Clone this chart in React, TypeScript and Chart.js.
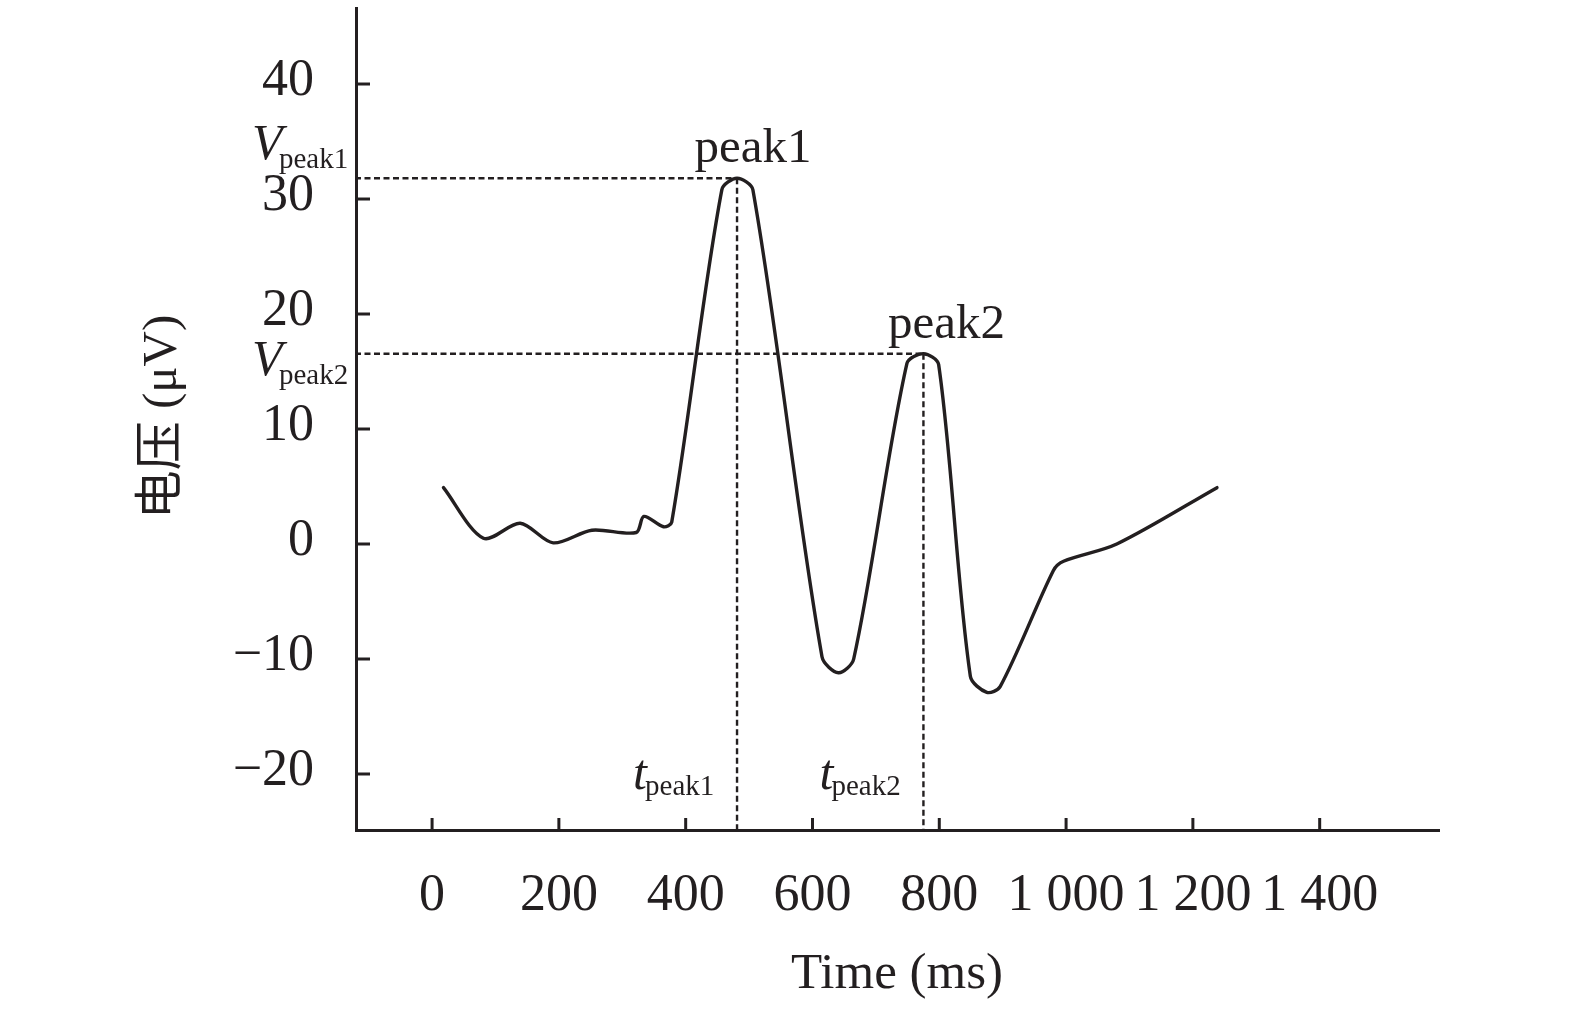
import { useEffect, useRef } from "react"
import { Chart, registerables } from "chart.js"

Chart.register(...registerables)

// values
const timeMs = [18, 81, 139, 191, 252, 322, 334, 365, 378, 457, 481, 506, 615, 641, 665, 749, 775, 799, 849, 875, 896, 980, 996, 1080, 1238]
const voltage = [4.9, 0.5, 1.8, 0.1, 1.2, 1.0, 2.4, 1.5, 1.9, 30.8, 31.8, 30.8, -9.8, -11.2, -10.0, 15.7, 16.55, 15.6, -11.5, -12.9, -12.4, -2.3, -1.5, 0.0, 4.9]

const xTicks = [0, 200, 400, 600, 800, 1000, 1200, 1400]
const yTicks = [-20, -10, 0, 10, 20, 30, 40]

const peakNames = ["peak1", "peak2"]
const peakTimes = [481, 775]
const peakVoltages = [31.8, 16.55]

const INK = "#231f20"
const SERIF = "'Liberation Serif', 'Times New Roman', serif"
const CJK = "'Liberation Serif', 'Noto Sans CJK SC', serif"

function fmtTick(v: number) {
  const s = Math.abs(v).toString().replace(/\B(?=(\d{3})+(?!\d))/g, " ")
  return v < 0 ? "\u2212" + s : s
}

function text(ctx: CanvasRenderingContext2D, s: string, x: number, y: number, font: string, align: CanvasTextAlign = "left") {
  ctx.font = font
  ctx.textAlign = align
  ctx.textBaseline = "alphabetic"
  ctx.fillText(s, x, y)
}

const annotations = {
  id: "annotations",
  afterDatasetsDraw(chart: any) {
    const { ctx, chartArea, scales } = chart
    const axisX = chartArea.left - 1
    const axisY = chartArea.bottom + 2
    ctx.save()
    ctx.strokeStyle = INK
    ctx.lineWidth = 2.4
    ctx.setLineDash([6, 3.5])
    peakTimes.forEach((t, i) => {
      const px = scales.x.getPixelForValue(t)
      const py = scales.y.getPixelForValue(peakVoltages[i])
      ctx.beginPath()
      ctx.moveTo(axisX, py)
      ctx.lineTo(px, py)
      ctx.stroke()
      ctx.beginPath()
      ctx.moveTo(px, py)
      ctx.lineTo(px, axisY)
      ctx.stroke()
    })
    ctx.restore()
  },
  afterDraw(chart: any) {
    const { ctx, chartArea, scales } = chart
    const axisX = chartArea.left - 1
    const axisY = chartArea.bottom + 2
    ctx.save()
    ctx.strokeStyle = INK
    ctx.fillStyle = INK
    ctx.lineWidth = 3

    // inward tick marks
    yTicks.forEach((v) => {
      const py = scales.y.getPixelForValue(v)
      ctx.beginPath()
      ctx.moveTo(axisX, py)
      ctx.lineTo(axisX + 15, py)
      ctx.stroke()
    })
    xTicks.forEach((v) => {
      const px = scales.x.getPixelForValue(v)
      ctx.beginPath()
      ctx.moveTo(px, axisY)
      ctx.lineTo(px, axisY - 14)
      ctx.stroke()
    })

    // peak labels and V / t markers
    peakNames.forEach((name, i) => {
      const px = scales.x.getPixelForValue(peakTimes[i])
      const py = scales.y.getPixelForValue(peakVoltages[i])
      text(ctx, name, px + (i === 0 ? 16 : 23), py - 16, `49px ${SERIF}`, "center")

      const vBase = i === 0 ? py - 19 : py + 21
      text(ctx, "V", 252, vBase, `italic 50px ${SERIF}`)
      text(ctx, name, 279, vBase + 9, `29px ${SERIF}`)

      text(ctx, "t", px - 104, 789, `italic 50px ${SERIF}`)
      text(ctx, name, px - 92, 795, `29px ${SERIF}`)
    })

    // axis titles
    text(ctx, "Time (ms)", 897, 988, `51px ${SERIF}`, "center")
    ctx.translate(163, 417)
    ctx.rotate(-Math.PI / 2)
    ctx.font = `49px ${CJK}`
    ctx.textAlign = "center"
    ctx.textBaseline = "middle"
    ctx.fillText("电压 (μV)", 0, 0)
    ctx.restore()
  },
}

function ErpChart() {
  const chartRef = useRef<HTMLCanvasElement>(null)
  const chartInstance = useRef<Chart | null>(null)

  useEffect(() => {
    if (!chartRef.current) return
    if (chartInstance.current) {
      chartInstance.current.destroy()
    }
    const ctx = chartRef.current.getContext("2d")
    if (!ctx) return

    chartInstance.current = new Chart(ctx, {
      type: "line",
      data: {
        datasets: [
          {
            data: timeMs.map((t, i) => ({ x: t, y: voltage[i] })),
            borderColor: INK,
            borderWidth: 3.4,
            pointRadius: 0,
            tension: 0.3,
            fill: false,
            borderCapStyle: "round",
            borderJoinStyle: "round",
          },
        ],
      },
      options: {
        responsive: true,
        maintainAspectRatio: false,
        animation: false,
        events: [],
        layout: {
          autoPadding: false,
          padding: { top: 8, right: 136, left: 0, bottom: 0 },
        },
        plugins: {
          legend: { display: false },
          tooltip: { enabled: false },
        },
        scales: {
          x: {
            type: "linear",
            min: -120,
            max: 1588.2,
            grid: { display: false, drawTicks: false },
            border: { display: true, color: INK, width: 3 },
            afterBuildTicks: (scale: any) => {
              scale.ticks = xTicks.map((v) => ({ value: v }))
            },
            afterFit: (scale: any) => {
              scale.height = 186
              scale.paddingLeft = 0
              scale.paddingRight = 0
            },
            ticks: {
              color: INK,
              padding: 35,
              maxRotation: 0,
              autoSkip: false,
              font: { family: SERIF, size: 52, lineHeight: 1.2 },
              callback: (v: any) => fmtTick(Number(v)),
            },
          },
          y: {
            min: -24.87,
            max: 46.61,
            grid: { display: false, drawTicks: false },
            border: { display: true, color: INK, width: 3 },
            afterBuildTicks: (scale: any) => {
              scale.ticks = yTicks.map((v) => ({ value: v }))
            },
            afterFit: (scale: any) => {
              scale.width = 356
              scale.paddingTop = 0
              scale.paddingBottom = 0
            },
            ticks: {
              color: INK,
              padding: 42,
              labelOffset: -3,
              font: { family: SERIF, size: 52, lineHeight: 1.2 },
              callback: (v: any) => fmtTick(Number(v)),
            },
          },
        },
      },
      plugins: [annotations],
    })

    return () => {
      if (chartInstance.current) {
        chartInstance.current.destroy()
        chartInstance.current = null
      }
    }
  }, [])

  return (
    <div style={{ position: "absolute", left: 0, top: 0, width: 1575, height: 1016, background: "#fff" }}>
      <canvas ref={chartRef}></canvas>
    </div>
  )
}

export default function App() {
  return <ErpChart />
}
